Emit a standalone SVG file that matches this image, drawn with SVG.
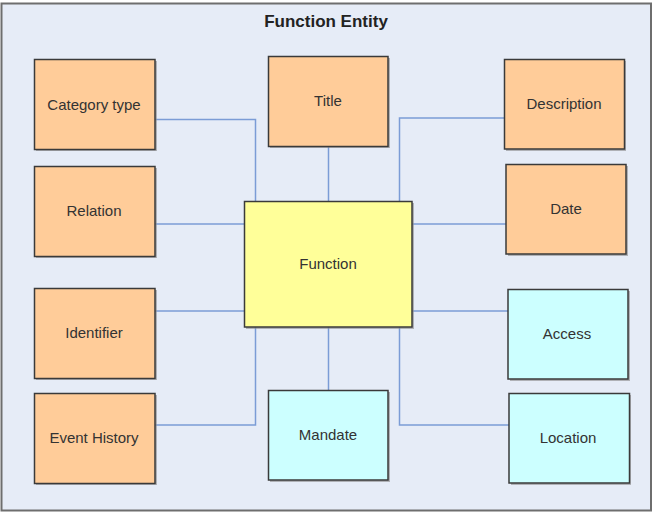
<svg xmlns="http://www.w3.org/2000/svg" width="652" height="512" viewBox="0 0 652 512">
<style>
.frame{fill:#E6ECF7;stroke:#6E6E6E;stroke-width:2}
.box{stroke:#3A3A3A;stroke-width:1.5}
.sh{fill:#8A8A8A;opacity:0.6}
.o{fill:#FFCC99}
.y{fill:#FFFF99}
.c{fill:#CCFFFF}
.lbl{font-family:"Liberation Sans",Arial,sans-serif;font-size:15px;fill:#333333;text-anchor:middle}
.title{font-family:"Liberation Sans",Arial,sans-serif;font-size:17px;font-weight:bold;fill:#222222;text-anchor:middle}
.conn{fill:none;stroke:#7B9CD6;stroke-width:1.5}
</style>
<rect class="frame" x="1.5" y="3.5" width="649.5" height="507"/>
<text class="title" x="326" y="27">Function Entity</text>
<g id="connectors">
<polyline class="conn" points="155,119.5 255.5,119.5 255.5,202"/>
<line class="conn" x1="155" y1="224" x2="245" y2="224"/>
<line class="conn" x1="155" y1="311" x2="245" y2="311"/>
<polyline class="conn" points="155,425 255.5,425 255.5,327"/>
<line class="conn" x1="328.5" y1="147" x2="328.5" y2="202"/>
<line class="conn" x1="328.5" y1="327" x2="328.5" y2="390.5"/>
<polyline class="conn" points="504.5,118 399.5,118 399.5,202"/>
<line class="conn" x1="412" y1="224" x2="506" y2="224"/>
<line class="conn" x1="412" y1="311" x2="508" y2="311"/>
<polyline class="conn" points="509,425 399.5,425 399.5,327"/>
</g>
<g id="category-type"><rect class="sh" x="36" y="61" width="121" height="90"/><rect class="box o" x="34.5" y="59.5" width="120.5" height="90"/><text class="lbl" x="94" y="110">Category type</text></g>
<g id="relation"><rect class="sh" x="36" y="168" width="121" height="90"/><rect class="box o" x="34.5" y="166.5" width="120.5" height="90"/><text class="lbl" x="94" y="216">Relation</text></g>
<g id="identifier"><rect class="sh" x="36" y="290" width="121" height="90"/><rect class="box o" x="34.5" y="288.5" width="120.5" height="90"/><text class="lbl" x="94" y="338">Identifier</text></g>
<g id="event-history"><rect class="sh" x="36" y="395" width="121" height="90"/><rect class="box o" x="34.5" y="393.5" width="120.5" height="90"/><text class="lbl" x="94" y="443">Event History</text></g>
<g id="title"><rect class="sh" x="270" y="58" width="120" height="90"/><rect class="box o" x="268.5" y="56.5" width="119.5" height="90"/><text class="lbl" x="328" y="106">Title</text></g>
<g id="function"><rect class="sh" x="246" y="203" width="168" height="126"/><rect class="box y" x="244.5" y="201.5" width="167.5" height="125.5"/><text class="lbl" x="328" y="269">Function</text></g>
<g id="mandate"><rect class="sh" x="270" y="392" width="120" height="90"/><rect class="box c" x="268.5" y="390.5" width="119.5" height="89.5"/><text class="lbl" x="328" y="440">Mandate</text></g>
<g id="description"><rect class="sh" x="506" y="61" width="120" height="90"/><rect class="box o" x="504.5" y="59.5" width="120" height="89.5"/><text class="lbl" x="564" y="109">Description</text></g>
<g id="date"><rect class="sh" x="508" y="166" width="120" height="90"/><rect class="box o" x="506" y="164.5" width="120" height="89.5"/><text class="lbl" x="566" y="214">Date</text></g>
<g id="access"><rect class="sh" x="510" y="291" width="120" height="90"/><rect class="box c" x="508" y="289.5" width="120" height="89.5"/><text class="lbl" x="567" y="339">Access</text></g>
<g id="location"><rect class="sh" x="511" y="395" width="120" height="90"/><rect class="box c" x="509" y="393.5" width="120.5" height="89.5"/><text class="lbl" x="568" y="443">Location</text></g>
</svg>
